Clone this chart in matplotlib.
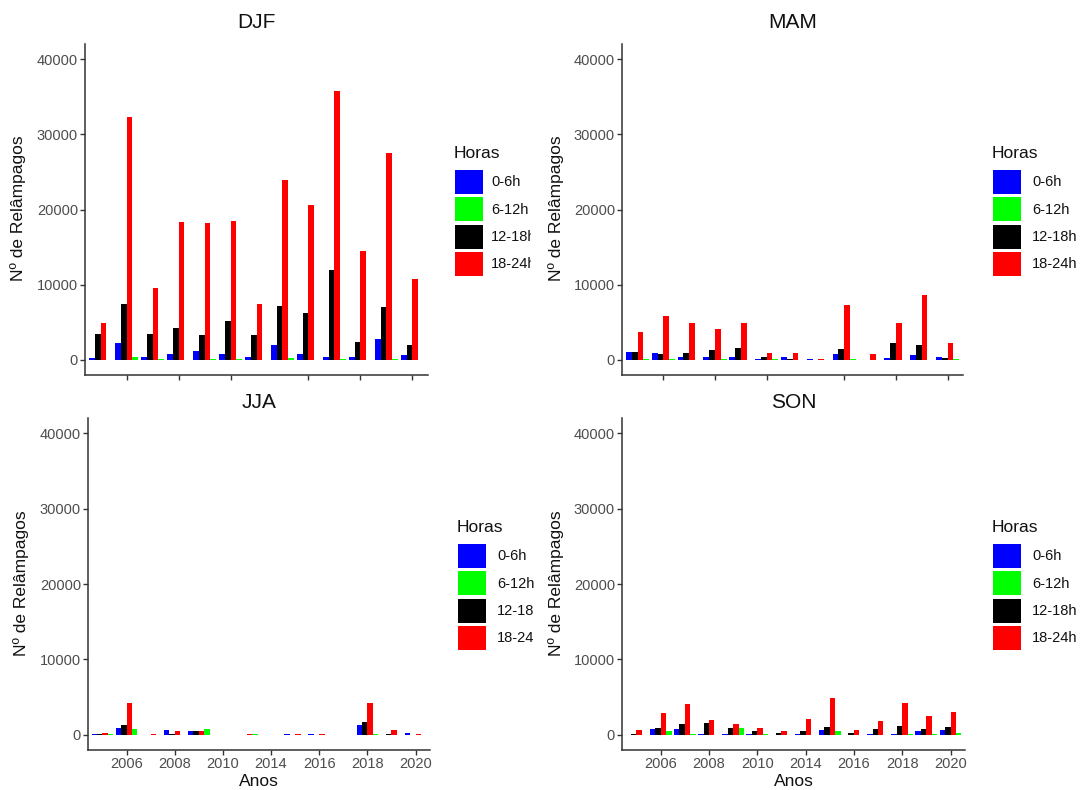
import matplotlib
matplotlib.use('Agg')
import matplotlib.pyplot as plt
from matplotlib.patches import Rectangle
from matplotlib.transforms import Bbox

plt.rcParams['font.family'] = ['Liberation Sans', 'DejaVu Sans']

W, H = 1083, 790

# ---------------- data ----------------
hours = ['0-6h', '6-12h', '12-18h', '18-24h']
hour_colors = {'0-6h': '#0000FF', '6-12h': '#00FF00', '12-18h': '#000000', '18-24h': '#FF0000'}
dodge_order = ['0-6h', '12-18h', '18-24h', '6-12h']   # alphabetical factor order used for dodging

tick_years = [2006, 2008, 2010, 2014, 2016, 2018, 2020]

years_djf = [2005, 2006, 2007, 2008, 2009, 2010, 2012, 2013, 2014, 2015, 2016, 2017, 2018]
djf_0_6 = [200, 2300, 440, 760, 1200, 760, 440, 2000, 760, 440, 440, 2800, 620]
djf_6_12 = [0, 440, 100, 0, 100, 100, 0, 250, 0, 100, 0, 100, 0]
djf_12_18 = [3420, 7420, 3420, 4220, 3290, 5200, 3290, 7200, 6270, 12000, 2440, 7070, 2000]
djf_18_24 = [4970, 32300, 9560, 18400, 18200, 18500, 7420, 23900, 20600, 35800, 14500, 27500, 10800]

years_mam = [2005, 2006, 2007, 2008, 2009, 2010, 2012, 2013, 2014, 2015, 2016, 2017, 2018]
mam_0_6 = [1100, 940, 450, 450, 450, 130, 450, 130, 760, 0, 220, 620, 450]
mam_6_12 = [100, 100, 0, 100, 0, 100, 0, 0, 100, 0, 0, 0, 100]
mam_12_18 = [1100, 760, 940, 1380, 1560, 450, 130, 0, 1520, 0, 2190, 2000, 220]
mam_18_24 = [3750, 5800, 4900, 4100, 4900, 940, 940, 130, 7360, 760, 4900, 8650, 2320]

years_jja = [2005, 2006, 2007, 2008, 2009, 2010, 2012, 2014, 2015, 2016, 2017, 2018, 2019, 2020]
jja_0_6 = [90, 970, 0, 620, 490, 0, 0, 0, 100, 100, 0, 1280, 0, 300]
jja_6_12 = [130, 800, 0, 0, 800, 0, 130, 0, 0, 0, 0, 100, 0, 0]
jja_12_18 = [90, 1280, 0, 90, 490, 0, 0, 0, 0, 0, 0, 1770, 90, 0]
jja_18_24 = [300, 4240, 130, 530, 490, 0, 130, 0, 100, 100, 0, 4240, 620, 130]

years_son = [2005, 2006, 2007, 2008, 2009, 2010, 2012, 2014, 2015, 2016, 2017, 2018, 2019, 2020]
son_0_6 = [0, 750, 750, 90, 90, 90, 0, 90, 620, 0, 90, 90, 490, 620]
son_6_12 = [0, 490, 100, 0, 930, 90, 0, 0, 490, 0, 0, 90, 90, 300]
son_12_18 = [90, 980, 1420, 1640, 930, 490, 300, 490, 1110, 300, 750, 1240, 750, 1070]
son_18_24 = [620, 2840, 4130, 2040, 1470, 980, 490, 2090, 4880, 620, 1860, 4260, 2490, 2980]

legend_labels_djf = ['0-6h', '6-12h', '12-18h', '18-24h']
legend_labels_jja = ['0-6h', '6-12h', '12-18', '18-24']

# ---------------- layout ----------------
fig = plt.figure(figsize=(W / 100, H / 100), dpi=100)
fig.patch.set_facecolor('white')


def fx(x):
    return x / W


def fy(y):
    return 1 - y / H


def make_axes(l, t, r, b):
    return fig.add_axes([fx(l), fy(b), (r - l) / W, (b - t) / H])


panels = [
    dict(name='DJF', years=years_djf,
         vals={'0-6h': djf_0_6, '6-12h': djf_6_12, '12-18h': djf_12_18, '18-24h': djf_18_24},
         box=(85, 44, 428, 375), xlabels=False, title_y=22, ylab_x=18,
         leg=(455, 153, 491), leg_labels=legend_labels_djf, clip=531),
    dict(name='MAM', years=years_mam,
         vals={'0-6h': mam_0_6, '6-12h': mam_6_12, '12-18h': mam_12_18, '18-24h': mam_18_24},
         box=(622, 44, 963, 375), xlabels=False, title_y=22, ylab_x=556,
         leg=(993, 153, 1032), leg_labels=legend_labels_djf, clip=None),
    dict(name='JJA', years=years_jja,
         vals={'0-6h': jja_0_6, '6-12h': jja_6_12, '12-18h': jja_12_18, '18-24h': jja_18_24},
         box=(88, 418, 430, 750), xlabels=True, title_y=402, ylab_x=21,
         leg=(458, 527, 497), leg_labels=legend_labels_jja, clip=537),
    dict(name='SON', years=years_son,
         vals={'0-6h': son_0_6, '6-12h': son_6_12, '12-18h': son_12_18, '18-24h': son_18_24},
         box=(622, 418, 965, 750), xlabels=True, title_y=402, ylab_x=556,
         leg=(993, 527, 1032), leg_labels=legend_labels_djf, clip=None),
]

bw = 0.225
axis_col = '#333333'
tick_lab_col = '#4D4D4D'

for p in panels:
    l, t, r, b = p['box']
    ax = make_axes(l, t, r, b)
    years = p['years']
    n = len(years)
    idx = list(range(n))
    for k, h in enumerate(dodge_order):
        xs = [i + (k - 1.5) * bw for i in idx]
        ax.bar(xs, p['vals'][h], width=bw, color=hour_colors[h], linewidth=0, align='center')
    ax.set_xlim(-0.6, n - 1 + 0.6)
    ax.set_ylim(-2000, 42000)
    ticks = [years.index(y) for y in tick_years if y in years]
    ax.set_xticks(ticks)
    if p['xlabels']:
        ax.set_xticklabels([str(years[i]) for i in ticks])
    else:
        ax.set_xticklabels([])
    ax.set_yticks([0, 10000, 20000, 30000, 40000])
    ax.set_yticklabels(['0', '10000', '20000', '30000', '40000'])
    for s in ['top', 'right']:
        ax.spines[s].set_visible(False)
    for s in ['left', 'bottom']:
        ax.spines[s].set_color(axis_col)
        ax.spines[s].set_linewidth(1.1)
    ax.tick_params(axis='both', colors=axis_col, labelcolor=tick_lab_col,
                   labelsize=10.5, length=3.5, width=1.0, pad=1.5)
    ax.set_facecolor('white')

    cx = (l + r) / 2
    fig.text(fx(cx), fy(p['title_y']), p['name'], ha='center', va='center',
             fontsize=15, color='#111111')
    fig.text(fx(p['ylab_x']), fy((t + b) / 2 - 1), 'Nº de Relâmpagos', rotation=90,
             ha='center', va='center', fontsize=12.5, color='#111111')
    if p['xlabels']:
        fig.text(fx(cx), fy(782), 'Anos', ha='center', va='center',
                 fontsize=12.5, color='#111111')

    # legend
    lx, ly, tx = p['leg']
    fig.text(fx(lx - 1), fy(ly), 'Horas', ha='left', va='center', fontsize=12.5,
             color='#111111')
    key_top = ly + 17
    for j, h in enumerate(hours):
        ktop = key_top + j * 27.3
        rect = Rectangle((fx(lx), fy(ktop + 24)), 28 / W, 24 / H, transform=fig.transFigure,
                         facecolor=hour_colors[h], edgecolor='none')
        fig.patches.append(rect)
        txt = fig.text(fx(tx), fy(ktop + 12.5), p['leg_labels'][j], ha='left', va='center',
                       fontsize=10.5, color='#111111')
        if p['clip'] is not None:
            txt.set_clip_on(True)
            txt.set_clip_box(Bbox([[0, 0], [p['clip'], H]]))

fig.savefig('out.png', dpi=100, facecolor='white')
